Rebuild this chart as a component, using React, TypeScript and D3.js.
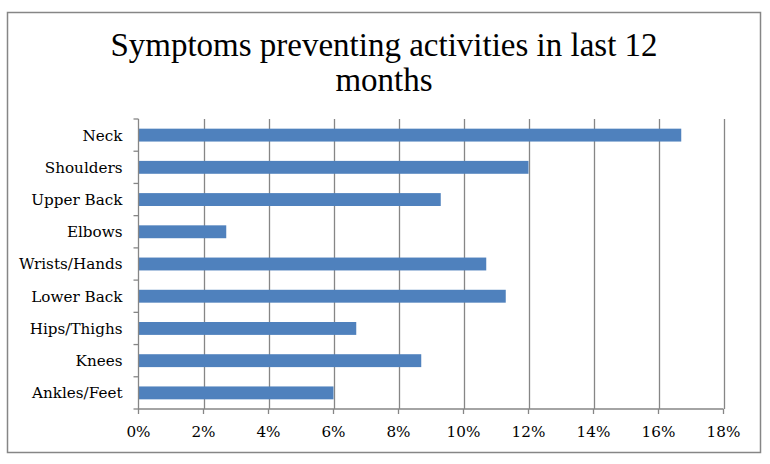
import React, { useEffect, useRef } from 'react';
import * as d3 from 'd3';

const categories = ['Neck', 'Shoulders', 'Upper Back', 'Elbows', 'Wrists/Hands', 'Lower Back', 'Hips/Thighs', 'Knees', 'Ankles/Feet'];
const values = [16.7, 12.0, 9.3, 2.7, 10.7, 11.3, 6.7, 8.7, 6.0];
const xTicks = [0, 2, 4, 6, 8, 10, 12, 14, 16, 18];
const titleLines = ['Symptoms preventing activities in last 12', 'months'];

const W = 770;
const H = 464;

const App: React.FC = () => {
    const ref = useRef<SVGSVGElement>(null);

    useEffect(() => {
        if (!ref.current) return;
        const svg = d3.select(ref.current);
        svg.selectAll('*').remove();

        const left = 138.5;
        const right = 723.5;
        const top = 119;
        const bottom = 409;
        const gridColor = '#868686';
        const labelFont = '"DejaVu Serif", serif';

        // рамка вокруг диаграммы
        svg.append('rect')
            .attr('x', 7.5).attr('y', 12.5)
            .attr('width', 753).attr('height', 440)
            .attr('fill', '#fff')
            .attr('stroke', gridColor)
            .attr('stroke-width', 1.5);

        // заголовок
        svg.append('text')
            .attr('text-anchor', 'middle')
            .attr('font-family', '"Liberation Serif", serif')
            .attr('font-size', 33)
            .attr('fill', '#000')
            .selectAll('tspan')
            .data(titleLines)
            .enter()
            .append('tspan')
            .attr('x', 384)
            .attr('y', (d, i) => 56 + i * 35)
            .text((d) => d);

        const x = d3.scaleLinear().domain([0, 18]).range([left, right]);
        const y = d3.scaleBand<string>()
            .domain(categories)
            .range([top, bottom])
            .paddingInner(0.6)
            .paddingOuter(0.3);

        // вертикальная сетка
        svg.append('g')
            .selectAll('line')
            .data(xTicks.slice(1))
            .enter()
            .append('line')
            .attr('x1', (d) => Math.round(x(d)) + 0.5)
            .attr('x2', (d) => Math.round(x(d)) + 0.5)
            .attr('y1', top)
            .attr('y2', bottom)
            .attr('stroke', gridColor)
            .attr('stroke-width', 1.3);

        // бары
        svg.append('g')
            .selectAll('rect')
            .data(categories)
            .enter()
            .append('rect')
            .attr('x', x(0))
            .attr('y', (d) => y(d) as number)
            .attr('width', (d, i) => x(values[i]) - x(0))
            .attr('height', y.bandwidth())
            .attr('fill', '#4F81BD');

        // ось Y
        const step = y.step();
        const yAxis = svg.append('g').attr('stroke', gridColor).attr('stroke-width', 1.3);
        yAxis.append('line')
            .attr('x1', left).attr('x2', left)
            .attr('y1', top).attr('y2', bottom);
        yAxis.selectAll('.tick')
            .data(d3.range(categories.length + 1))
            .enter()
            .append('line')
            .attr('x1', left - 5).attr('x2', left)
            .attr('y1', (i) => top + i * step)
            .attr('y2', (i) => top + i * step);

        svg.append('g')
            .selectAll('text')
            .data(categories)
            .enter()
            .append('text')
            .attr('x', left - 16)
            .attr('y', (d) => (y(d) as number) + y.bandwidth() / 2)
            .attr('dy', '0.36em')
            .attr('text-anchor', 'end')
            .attr('font-family', labelFont)
            .attr('font-size', 15.2)
            .attr('fill', '#000')
            .text((d) => d);

        // ось X
        const xAxis = svg.append('g').attr('stroke', gridColor).attr('stroke-width', 1.3);
        xAxis.append('line')
            .attr('x1', left).attr('x2', right)
            .attr('y1', bottom).attr('y2', bottom);
        xAxis.selectAll('.tick')
            .data(xTicks)
            .enter()
            .append('line')
            .attr('x1', (d) => x(d)).attr('x2', (d) => x(d))
            .attr('y1', bottom).attr('y2', bottom + 5);

        svg.append('g')
            .selectAll('text')
            .data(xTicks)
            .enter()
            .append('text')
            .attr('x', (d) => x(d))
            .attr('y', 436.5)
            .attr('text-anchor', 'middle')
            .attr('font-family', labelFont)
            .attr('font-size', 15.2)
            .attr('fill', '#000')
            .text((d) => `${d}%`);
    }, []);

    return (
        <div style={{ position: 'absolute', left: 0, top: 0 }}>
            <svg ref={ref} width={W} height={H} style={{ display: 'block', background: '#fff' }} />
        </div>
    );
};

export default App;
